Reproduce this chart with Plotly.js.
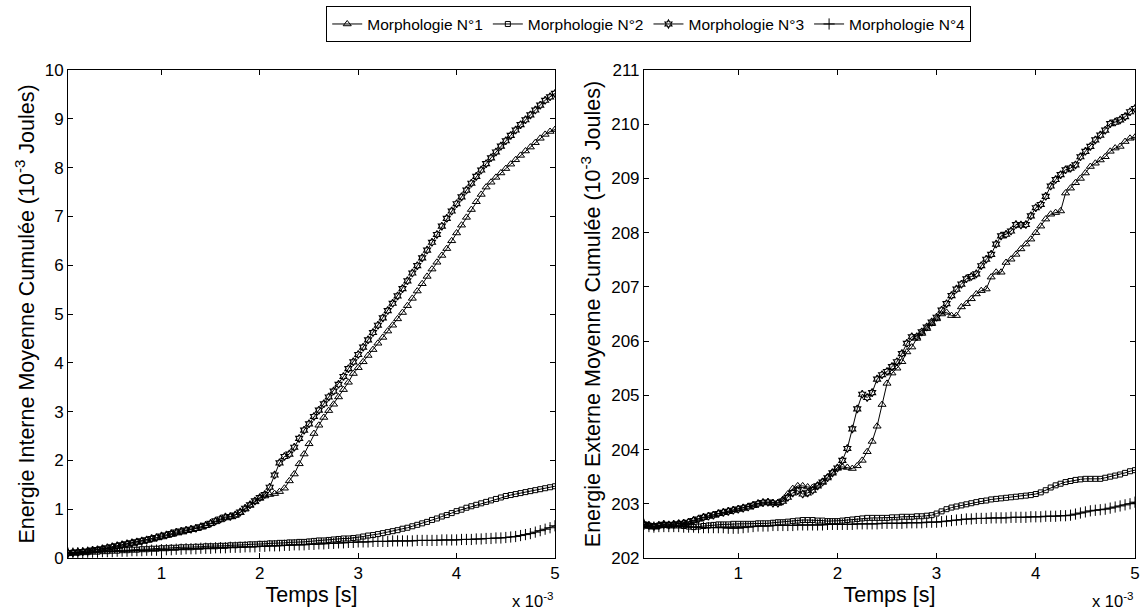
<!DOCTYPE html>
<html><head><meta charset="utf-8">
<script src="https://cdn.plot.ly/plotly-3.0.1.min.js"></script>
<style>html,body{margin:0;padding:0;background:#fff}#chart{width:1142px;height:610px}</style>
</head><body><div id="chart"></div>
<script>
// Time (x 10^-3 s)
const temps = [0.05,0.1,0.15,0.2,0.25,0.3,0.35,0.4,0.45,0.5,
0.55,0.6,0.65,0.7,0.75,0.8,0.85,0.9,0.95,1.0,
1.05,1.1,1.15,1.2,1.25,1.3,1.35,1.4,1.45,1.5,
1.55,1.6,1.65,1.7,1.75,1.8,1.85,1.9,1.95,2.0,
2.05,2.1,2.15,2.2,2.25,2.3,2.35,2.4,2.45,2.5,
2.55,2.6,2.65,2.7,2.75,2.8,2.85,2.9,2.95,3.0,
3.05,3.1,3.15,3.2,3.25,3.3,3.35,3.4,3.45,3.5,
3.55,3.6,3.65,3.7,3.75,3.8,3.85,3.9,3.95,4.0,
4.05,4.1,4.15,4.2,4.25,4.3,4.35,4.4,4.45,4.5,
4.55,4.6,4.65,4.7,4.75,4.8,4.85,4.9,4.95,5.0];

const seriesNames = ["Morphologie N°1","Morphologie N°2","Morphologie N°3","Morphologie N°4"];

// Internal energy (10^-3 J)
const interneM1 = [0.10,0.11,0.12,0.13,0.14,0.15,0.17,0.18,0.20,0.22,
0.24,0.26,0.28,0.30,0.32,0.34,0.36,0.38,0.41,0.43,
0.46,0.48,0.51,0.53,0.56,0.58,0.60,0.63,0.66,0.70,
0.74,0.78,0.82,0.84,0.88,0.93,1.00,1.08,1.15,1.22,
1.27,1.30,1.32,1.36,1.43,1.58,1.72,1.93,2.13,2.34,
2.55,2.72,2.88,3.02,3.15,3.30,3.45,3.60,3.78,3.90,
4.02,4.15,4.27,4.40,4.52,4.65,4.77,4.90,5.03,5.17,
5.32,5.47,5.62,5.77,5.92,6.06,6.20,6.34,6.50,6.66,
6.82,6.98,7.14,7.30,7.45,7.60,7.70,7.80,7.89,7.98,
8.07,8.16,8.25,8.34,8.42,8.51,8.60,8.68,8.74,8.78];
const interneM2 = [0.10,0.11,0.11,0.12,0.12,0.13,0.13,0.14,0.14,0.15,
0.15,0.16,0.16,0.17,0.17,0.18,0.18,0.19,0.19,0.20,
0.20,0.21,0.21,0.22,0.22,0.22,0.23,0.23,0.24,0.24,
0.24,0.25,0.25,0.26,0.26,0.27,0.27,0.28,0.28,0.29,
0.29,0.30,0.30,0.31,0.31,0.32,0.32,0.33,0.33,0.34,
0.35,0.36,0.36,0.37,0.38,0.39,0.40,0.40,0.41,0.42,
0.44,0.46,0.47,0.49,0.51,0.53,0.55,0.57,0.60,0.62,
0.65,0.68,0.71,0.74,0.78,0.81,0.85,0.88,0.92,0.96,
0.99,1.03,1.06,1.09,1.12,1.15,1.18,1.21,1.24,1.27,
1.29,1.31,1.33,1.35,1.37,1.39,1.41,1.43,1.45,1.47];
const interneM3 = [0.10,0.11,0.12,0.13,0.14,0.16,0.17,0.19,0.21,0.23,
0.25,0.27,0.29,0.31,0.33,0.35,0.37,0.40,0.42,0.45,
0.47,0.50,0.53,0.55,0.57,0.59,0.61,0.64,0.67,0.71,
0.76,0.80,0.84,0.85,0.88,0.94,1.02,1.09,1.17,1.24,
1.30,1.45,1.70,1.95,2.08,2.13,2.27,2.45,2.62,2.75,
2.90,3.03,3.16,3.30,3.42,3.56,3.72,3.88,4.02,4.17,
4.32,4.47,4.62,4.77,4.92,5.07,5.22,5.37,5.52,5.68,
5.84,5.99,6.15,6.31,6.47,6.63,6.80,6.96,7.11,7.26,
7.40,7.54,7.68,7.82,7.95,8.08,8.20,8.32,8.44,8.55,
8.66,8.77,8.88,8.98,9.08,9.18,9.28,9.38,9.45,9.52];
const interneM4 = [0.10,0.10,0.11,0.11,0.12,0.12,0.12,0.13,0.13,0.13,
0.14,0.14,0.14,0.15,0.15,0.15,0.16,0.16,0.16,0.17,
0.17,0.17,0.18,0.18,0.19,0.19,0.19,0.20,0.20,0.20,
0.21,0.21,0.21,0.22,0.22,0.22,0.23,0.23,0.23,0.24,
0.24,0.25,0.25,0.25,0.26,0.26,0.27,0.27,0.27,0.28,
0.28,0.29,0.29,0.30,0.30,0.31,0.31,0.32,0.32,0.33,
0.33,0.33,0.34,0.34,0.34,0.34,0.35,0.35,0.35,0.35,
0.35,0.36,0.36,0.36,0.36,0.36,0.37,0.37,0.37,0.37,
0.38,0.38,0.38,0.39,0.39,0.40,0.40,0.41,0.41,0.42,
0.43,0.44,0.46,0.48,0.50,0.53,0.56,0.59,0.62,0.66];

// External energy (10^-3 J)
const externeM1 = [202.60,202.58,202.57,202.59,202.60,202.61,202.62,202.64,202.65,202.67,
202.70,202.72,202.75,202.78,202.80,202.82,202.85,202.87,202.89,202.91,
202.93,202.95,202.98,203.01,203.03,203.03,203.02,203.02,203.08,203.18,
203.28,203.33,203.33,203.31,203.30,203.34,203.41,203.49,203.58,203.66,
203.68,203.67,203.65,203.70,203.80,203.96,204.15,204.43,204.83,205.22,
205.41,205.50,205.62,205.80,205.89,206.05,206.14,206.23,206.32,206.41,
206.50,206.53,206.47,206.47,206.63,206.69,206.78,206.87,206.93,206.96,
207.18,207.27,207.27,207.45,207.51,207.60,207.70,207.79,207.88,208.00,
208.12,208.25,208.34,208.37,208.40,208.73,208.82,208.92,209.00,209.10,
209.22,209.28,209.34,209.40,209.50,209.56,209.59,209.68,209.74,209.76];
const externeM2 = [202.62,202.60,202.59,202.60,202.61,202.60,202.60,202.60,202.59,202.58,
202.57,202.58,202.59,202.60,202.61,202.62,202.62,202.62,202.63,202.63,
202.63,202.63,202.63,202.64,202.64,202.64,202.65,202.66,202.66,202.67,
202.68,202.69,202.70,202.70,202.70,202.69,202.69,202.68,202.68,202.68,
202.69,202.70,202.71,202.72,202.73,202.74,202.74,202.74,202.74,202.74,
202.75,202.75,202.76,202.76,202.76,202.77,202.77,202.78,202.79,202.82,
202.86,202.90,202.93,202.95,202.97,202.99,203.01,203.03,203.05,203.06,
203.08,203.09,203.10,203.11,203.12,203.13,203.14,203.15,203.16,203.18,
203.21,203.25,203.30,203.34,203.37,203.40,203.42,203.44,203.45,203.46,
203.46,203.46,203.46,203.48,203.50,203.52,203.54,203.57,203.60,203.62];
const externeM3 = [202.62,202.60,202.58,202.60,202.62,202.61,202.62,202.63,202.64,202.66,
202.69,202.72,202.75,202.77,202.79,202.82,202.84,202.86,202.88,202.90,
202.92,202.94,202.97,203.00,203.02,203.03,203.01,203.01,203.05,203.12,
203.20,203.24,203.18,203.20,203.25,203.33,203.40,203.48,203.57,203.66,
203.80,204.02,204.38,204.75,205.02,204.96,205.05,205.30,205.38,205.44,
205.53,205.62,205.77,205.96,206.08,206.08,206.17,206.26,206.35,206.44,
206.57,206.69,206.84,206.96,207.05,207.15,207.19,207.24,207.39,207.51,
207.60,207.79,207.94,207.97,208.03,208.15,208.14,208.15,208.31,208.46,
208.52,208.67,208.86,208.98,209.07,209.16,209.19,209.25,209.40,209.50,
209.59,209.71,209.80,209.89,210.01,210.04,210.08,210.14,210.23,210.29];
const externeM4 = [202.62,202.58,202.57,202.58,202.58,202.58,202.58,202.58,202.57,202.57,
202.57,202.56,202.56,202.56,202.56,202.56,202.56,202.55,202.55,202.55,
202.56,202.57,202.58,202.59,202.59,202.59,202.60,202.60,202.60,202.60,
202.60,202.61,202.61,202.61,202.61,202.61,202.61,202.62,202.62,202.62,
202.62,202.62,202.62,202.63,202.63,202.63,202.63,202.63,202.64,202.64,
202.64,202.64,202.64,202.65,202.65,202.65,202.65,202.66,202.66,202.66,
202.67,202.68,202.69,202.70,202.71,202.72,202.72,202.73,202.73,202.73,
202.74,202.74,202.74,202.74,202.75,202.75,202.75,202.75,202.76,202.76,
202.76,202.77,202.77,202.77,202.78,202.78,202.79,202.81,202.83,202.85,
202.87,202.88,202.89,202.90,202.92,202.94,202.96,202.98,203.00,203.03];

const xTicks = [1,2,3,4,5];

const markerStyles = [
  {symbol:"triangle-up-open", size:7, lw:1},
  {symbol:"square-open", size:5, lw:1},
  {symbol:"hexagram-open", size:6, lw:1.2},
  {symbol:"cross-thin-open", size:8, lw:1}
];
const interne = [interneM1, interneM2, interneM3, interneM4];
const externe = [externeM1, externeM2, externeM3, externeM4];

const traces = [];
for (let k = 0; k < 4; k++) {
  const m = {symbol: markerStyles[k].symbol, size: markerStyles[k].size, color:"#000",
             line:{color:"#000", width:markerStyles[k].lw}};
  traces.push({x: temps, y: interne[k], name: seriesNames[k], legendgroup: "g"+k,
    type:"scatter", mode:"lines+markers", line:{color:"#000", width:1}, marker:m,
    xaxis:"x", yaxis:"y"});
}
for (let k = 0; k < 4; k++) {
  const m = {symbol: markerStyles[k].symbol, size: markerStyles[k].size, color:"#000",
             line:{color:"#000", width:markerStyles[k].lw}};
  traces.push({x: temps, y: externe[k], name: seriesNames[k], legendgroup: "g"+k, showlegend:false,
    type:"scatter", mode:"lines+markers", line:{color:"#000", width:1}, marker:m,
    xaxis:"x2", yaxis:"y2"});
}

const font = "Liberation Sans, Arial, sans-serif";
const axBase = {showgrid:false, zeroline:false, showline:true, linecolor:"#000", linewidth:1,
  mirror:"ticks", ticks:"inside", ticklen:5, tickcolor:"#000",
  tickfont:{family:font, size:17, color:"#000"}};
const titleFont = {family:font, size:21.5, color:"#000"};

const layout = {
  width:1142, height:610,
  paper_bgcolor:"#fff", plot_bgcolor:"#fff",
  margin:{l:68, r:7, t:69, b:52},
  font:{family:font, color:"#000"},
  showlegend:true,
  legend:{orientation:"h", x:0.242, xanchor:"left", y:1.128, yanchor:"top",
    bordercolor:"#000", borderwidth:1, font:{family:font, size:15.5, color:"#000"},
    itemwidth:30, tracegroupgap:0, traceorder:"normal"},
  xaxis: Object.assign({}, axBase, {domain:[0,0.4564], range:[0.05,5], tickvals:xTicks,
    title:{text:"Temps [s]", font:titleFont, standoff:0}, anchor:"y"}),
  yaxis: Object.assign({}, axBase, {domain:[0,1], range:[0,10], dtick:1,
    title:{text:"Energie Interne Moyenne Cumulée (10<sup>-3</sup> Joules)", font:titleFont, standoff:4}, anchor:"x"}),
  xaxis2: Object.assign({}, axBase, {domain:[0.5398,1], range:[0.05,5], tickvals:xTicks,
    title:{text:"Temps [s]", font:titleFont, standoff:0}, anchor:"y2"}),
  yaxis2: Object.assign({}, axBase, {domain:[0,1], range:[202,211], dtick:1,
    title:{text:"Energie Externe Moyenne Cumulée (10<sup>-3</sup> Joules)", font:titleFont, standoff:4}, anchor:"x2"}),
  annotations:[
    {xref:"paper", yref:"paper", x:0.4564, y:-0.086, xanchor:"right", yanchor:"middle",
     text:"x 10<sup>-3</sup>", showarrow:false, font:{family:font, size:16.5, color:"#000"}},
    {xref:"paper", yref:"paper", x:1.0, y:-0.086, xanchor:"right", yanchor:"middle",
     text:"x 10<sup>-3</sup>", showarrow:false, font:{family:font, size:16.5, color:"#000"}}
  ]
};

Plotly.newPlot("chart", traces, layout, {displayModeBar:false, staticPlot:true});
</script>
</body></html>
